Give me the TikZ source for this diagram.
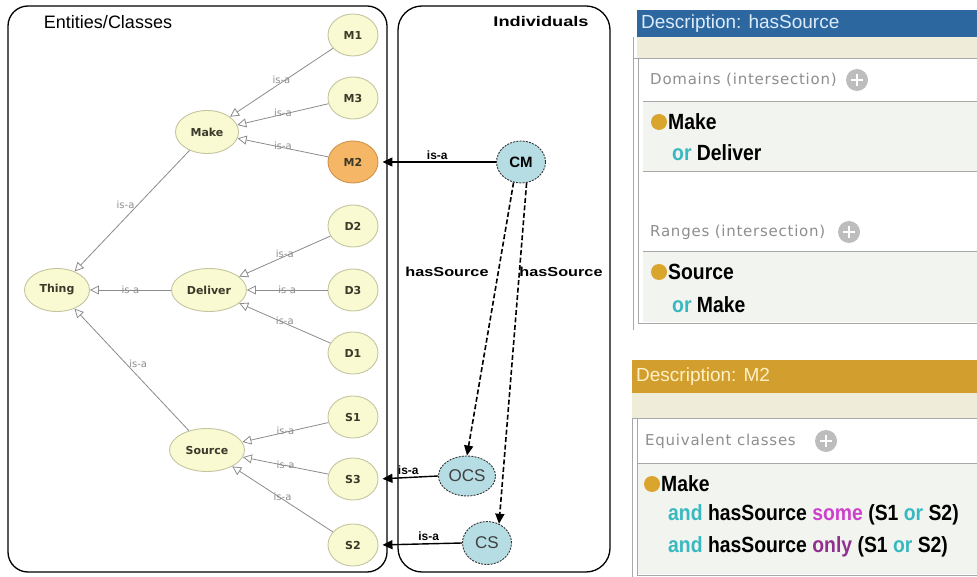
\documentclass[tikz,border=0pt]{standalone}
\usepackage{fontspec}
\setmainfont{Liberation Sans}
\newfontfamily\dv{DejaVu Sans}
\newfontfamily\lsp[LetterSpace=5]{DejaVu Sans}
\newfontfamily\cnd[FakeStretch=0.88]{Liberation Sans}
\usetikzlibrary{shapes.geometric,arrows.meta}
\definecolor{clsfill}{HTML}{FAFAD2}
\definecolor{clsdraw}{HTML}{C4C4A0}
\definecolor{mtwo}{HTML}{F5B765}
\definecolor{mtwodraw}{HTML}{D0924A}
\definecolor{indfill}{HTML}{B6DDE4}
\definecolor{isagray}{HTML}{8C8C8C}
\definecolor{hdrblue}{HTML}{2C67A0}
\definecolor{hdrbluetxt}{HTML}{DCEBFA}
\definecolor{hdrorange}{HTML}{D29E2E}
\definecolor{hdrorangetxt}{HTML}{FFF1C6}
\definecolor{stripbeige}{HTML}{EFECD9}
\definecolor{rowfill}{HTML}{F2F4EF}
\definecolor{panelline}{HTML}{A8A8A8}
\definecolor{bulletorange}{HTML}{D9A52C}
\definecolor{kwteal}{HTML}{38B8C0}
\definecolor{kwmag}{HTML}{CC40CC}
\definecolor{kwpurple}{HTML}{90308F}
\definecolor{lblgray}{HTML}{8E8E8E}
\definecolor{plusgray}{HTML}{BDBDBD}
\definecolor{darktxt}{HTML}{3A3A2A}
\tikzset{
  cls/.style={ellipse, draw=clsdraw, fill=clsfill, line width=0.9pt, minimum width=50pt, minimum height=42pt, inner sep=0pt,
    font=\dv\bfseries\fontsize{11}{13}\selectfont, text=darktxt},
  ind/.style={ellipse, draw=black!80, fill=indfill, line width=0.9pt, dash pattern=on 2pt off 1.2pt, inner sep=0pt,
    font=\fontsize{17}{19}\selectfont, text=black!75},
  isa/.style={draw=isagray, line width=0.8pt, -{Triangle[open,length=9pt,width=9pt]}},
  lbl/.style={font=\dv\fontsize{10}{12}\selectfont, text=lblgray, inner sep=1pt},
  iarrow/.style={draw=black, line width=1.4pt, -{Triangle[length=10pt,width=9pt]}, shorten >=4pt},
  hsarrow/.style={draw=black, line width=1.6pt, dash pattern=on 5pt off 2.5pt, -{Triangle[length=10pt,width=9pt]}},
  blbl/.style={font=\bfseries\fontsize{12}{14}\selectfont, text=black, inner sep=1pt},
  frame/.style={draw=black, line width=1.3pt},
  paneltxt/.style={anchor=west, inner sep=0pt, font=\lsp\fontsize{15}{17}\selectfont, text=lblgray},
  owl/.style={anchor=west, inner sep=0pt, font=\cnd\bfseries\fontsize{22}{24}\selectfont, text=black},
  hdr/.style={anchor=west, inner sep=0pt, font=\fontsize{19}{21}\selectfont},
}
\newcommand{\plusbtn}[2]{%
  \fill[plusgray] (#1,#2) circle (11pt);
  \draw[white, line width=2.2pt] (#1-6,#2) -- (#1+6,#2) (#1,#2-6) -- (#1,#2+6);}
\begin{document}
\begin{tikzpicture}[x=1pt,y=-1pt]
\useasboundingbox (0,0) rectangle (977,577);
\fill[white] (0,0) rectangle (977,577);

% ---------- frames ----------
\draw[frame, rounded corners=20pt] (8,6) rectangle (387,572);
\draw[frame, rounded corners=24pt] (398,6) rectangle (610,572);
\node (titleC) at (108,22) {\fontsize{18}{20}\selectfont Entities/Classes};
\node (titleI) at (541,22) {\scalebox{1.3}[1]{\bfseries\fontsize{14}{16}\selectfont Individuals}};

% ---------- class nodes ----------
\node[cls] (M1) at (353,35) {M1};
\node[cls] (M3) at (353,98) {M3};
\node[cls, fill=mtwo, draw=mtwodraw] (M2) at (353,162) {M2};
\node[cls] (D2) at (353,226) {D2};
\node[cls] (D3) at (353,290) {D3};
\node[cls] (D1) at (353,353) {D1};
\node[cls] (S1) at (353,417) {S1};
\node[cls] (S3) at (353,479) {S3};
\node[cls] (S2) at (353,545) {S2};
\node[cls, minimum width=63pt, minimum height=43pt] (Make) at (207,132) {Make};
\node[cls, minimum width=65pt, minimum height=43pt] (Thing) at (57,290) {Thing};
\node[cls, minimum width=75pt, minimum height=43pt] (Deliver) at (209,290) {Deliver};
\node[cls, minimum width=75pt, minimum height=43pt] (Source) at (207,450) {Source};

% ---------- is-a edges ----------
\draw[isa] (M1) -- node[lbl, above=-3pt] (l1) {is-a} (Make);
\draw[isa] (M3) -- node[lbl, above=-4pt] (l2) {is-a} (Make);
\draw[isa] (M2) -- node[lbl, above=-3pt] (l3) {is-a} (Make);
\draw[isa] (Make) -- node[lbl, pos=.45, left=2pt] (l4) {is-a} (Thing);
\draw[isa] (D2) -- node[lbl, above=-3pt] (l5) {is-a} (Deliver);
\draw[isa] (D3) -- node[lbl, above=-5pt] (l6) {is-a} (Deliver);
\draw[isa] (D1) -- node[lbl, above=-3pt] (l7) {is-a} (Deliver);
\draw[isa] (Deliver) -- node[lbl, above=-5pt] (l8) {is-a} (Thing);
\draw[isa] (Source) -- node[lbl, pos=.55, right=2pt] (l9) {is-a} (Thing);
\draw[isa] (S1) -- node[lbl, above=-4pt] (l10) {is-a} (Source);
\draw[isa] (S3) -- node[lbl, above=-4pt] (l11) {is-a} (Source);
\draw[isa] (S2) -- node[lbl, above=-3pt] (l12) {is-a} (Source);

% ---------- individuals ----------
\node[ind, minimum width=49pt, minimum height=42pt, font=\bfseries\fontsize{15}{17}\selectfont, text=black] (CM) at (521,162) {CM};
\node[ind, minimum width=57pt, minimum height=40pt] (OCS) at (467,476) {OCS};
\node[ind, minimum width=49pt, minimum height=43pt] (CS) at (487,543) {CS};

\draw[iarrow] (CM) -- node[blbl, above=1pt] (i1) {is-a} (M2);
\draw[iarrow] (OCS.west) -- node[blbl, above=1pt, pos=.5] (i2) {is-a} (S3.east);
\draw[iarrow] (CS.west) -- node[blbl, above=1pt, pos=.4] (i3) {is-a} (S2.east);

\draw[hsarrow] (CM.250) -- (OCS.north);
\draw[hsarrow] (CM.285) -- (CS.58);
\node (h1) at (447,272) {\scalebox{1.25}[1]{\bfseries\fontsize{13}{15}\selectfont hasSource}};
\node (h2) at (561,272) {\scalebox{1.25}[1]{\bfseries\fontsize{13}{15}\selectfont hasSource}};

% ---------- panel 1: hasSource ----------
\fill[hdrblue] (637,10) rectangle (977,37);
\node[hdr, text=hdrbluetxt] (p1h) at (641,24) {Description: hasSource};
\fill[stripbeige] (637,37) rectangle (977,58);
\fill[rowfill] (643,102) rectangle (977,171);
\fill[rowfill] (643,251) rectangle (977,322);
\draw[panelline, line width=0.8pt] (633,58) -- (977,58);
\draw[panelline, line width=0.8pt] (633,37) -- (633,330);
\draw[panelline, line width=0.8pt] (638,58) -- (638,324);
\draw[panelline, line width=0.7pt] (643,101) -- (977,101);
\draw[panelline, line width=0.7pt] (643,171) -- (977,171);
\draw[panelline, line width=0.7pt] (643,251) -- (977,251);
\draw[panelline, line width=0.7pt] (638,323) -- (977,323);
\node[paneltxt] (dom) at (650,80) {Domains (intersection)};
\plusbtn{857}{80}
\fill[bulletorange] (659,122) circle (8pt);
\node[owl] (d1) at (668,122) {Make};
\node[owl] (d2) at (672,153) {{\color{kwteal}or} Deliver};
\node[paneltxt] (rng) at (650,232) {Ranges (intersection)};
\plusbtn{849}{232}
\fill[bulletorange] (659,272) circle (8pt);
\node[owl] (r1) at (668,272) {Source};
\node[owl] (r2) at (672,305) {{\color{kwteal}or} Make};

% ---------- panel 2: M2 ----------
\fill[hdrorange] (632,360) rectangle (977,393);
\node[hdr, text=hdrorangetxt] (p2h) at (636,377) {Description: M2};
\fill[stripbeige] (632,393) rectangle (977,418);
\fill[rowfill] (638,464) rectangle (977,574);
\draw[panelline, line width=0.8pt] (632,418) -- (977,418);
\draw[panelline, line width=0.8pt] (632,418) -- (632,577);
\draw[panelline, line width=0.8pt] (637,418) -- (637,575);
\draw[panelline, line width=0.7pt] (637,463) -- (977,463);
\draw[panelline, line width=0.7pt] (637,575) -- (977,575);
\node[paneltxt] (eq) at (645,441) {Equivalent classes};
\plusbtn{826}{441}
\fill[bulletorange] (652,484) circle (8pt);
\node[owl] (e1) at (661,484) {Make};
\node[owl] (e2) at (668,515) {{\color{kwteal}and} hasSource {\color{kwmag}some} (S1 {\color{kwteal}or} S2)};
\node[owl] (e3) at (668,547) {{\color{kwteal}and} hasSource {\color{kwpurple}only} (S1 {\color{kwteal}or} S2)};
\end{tikzpicture}
\end{document}
